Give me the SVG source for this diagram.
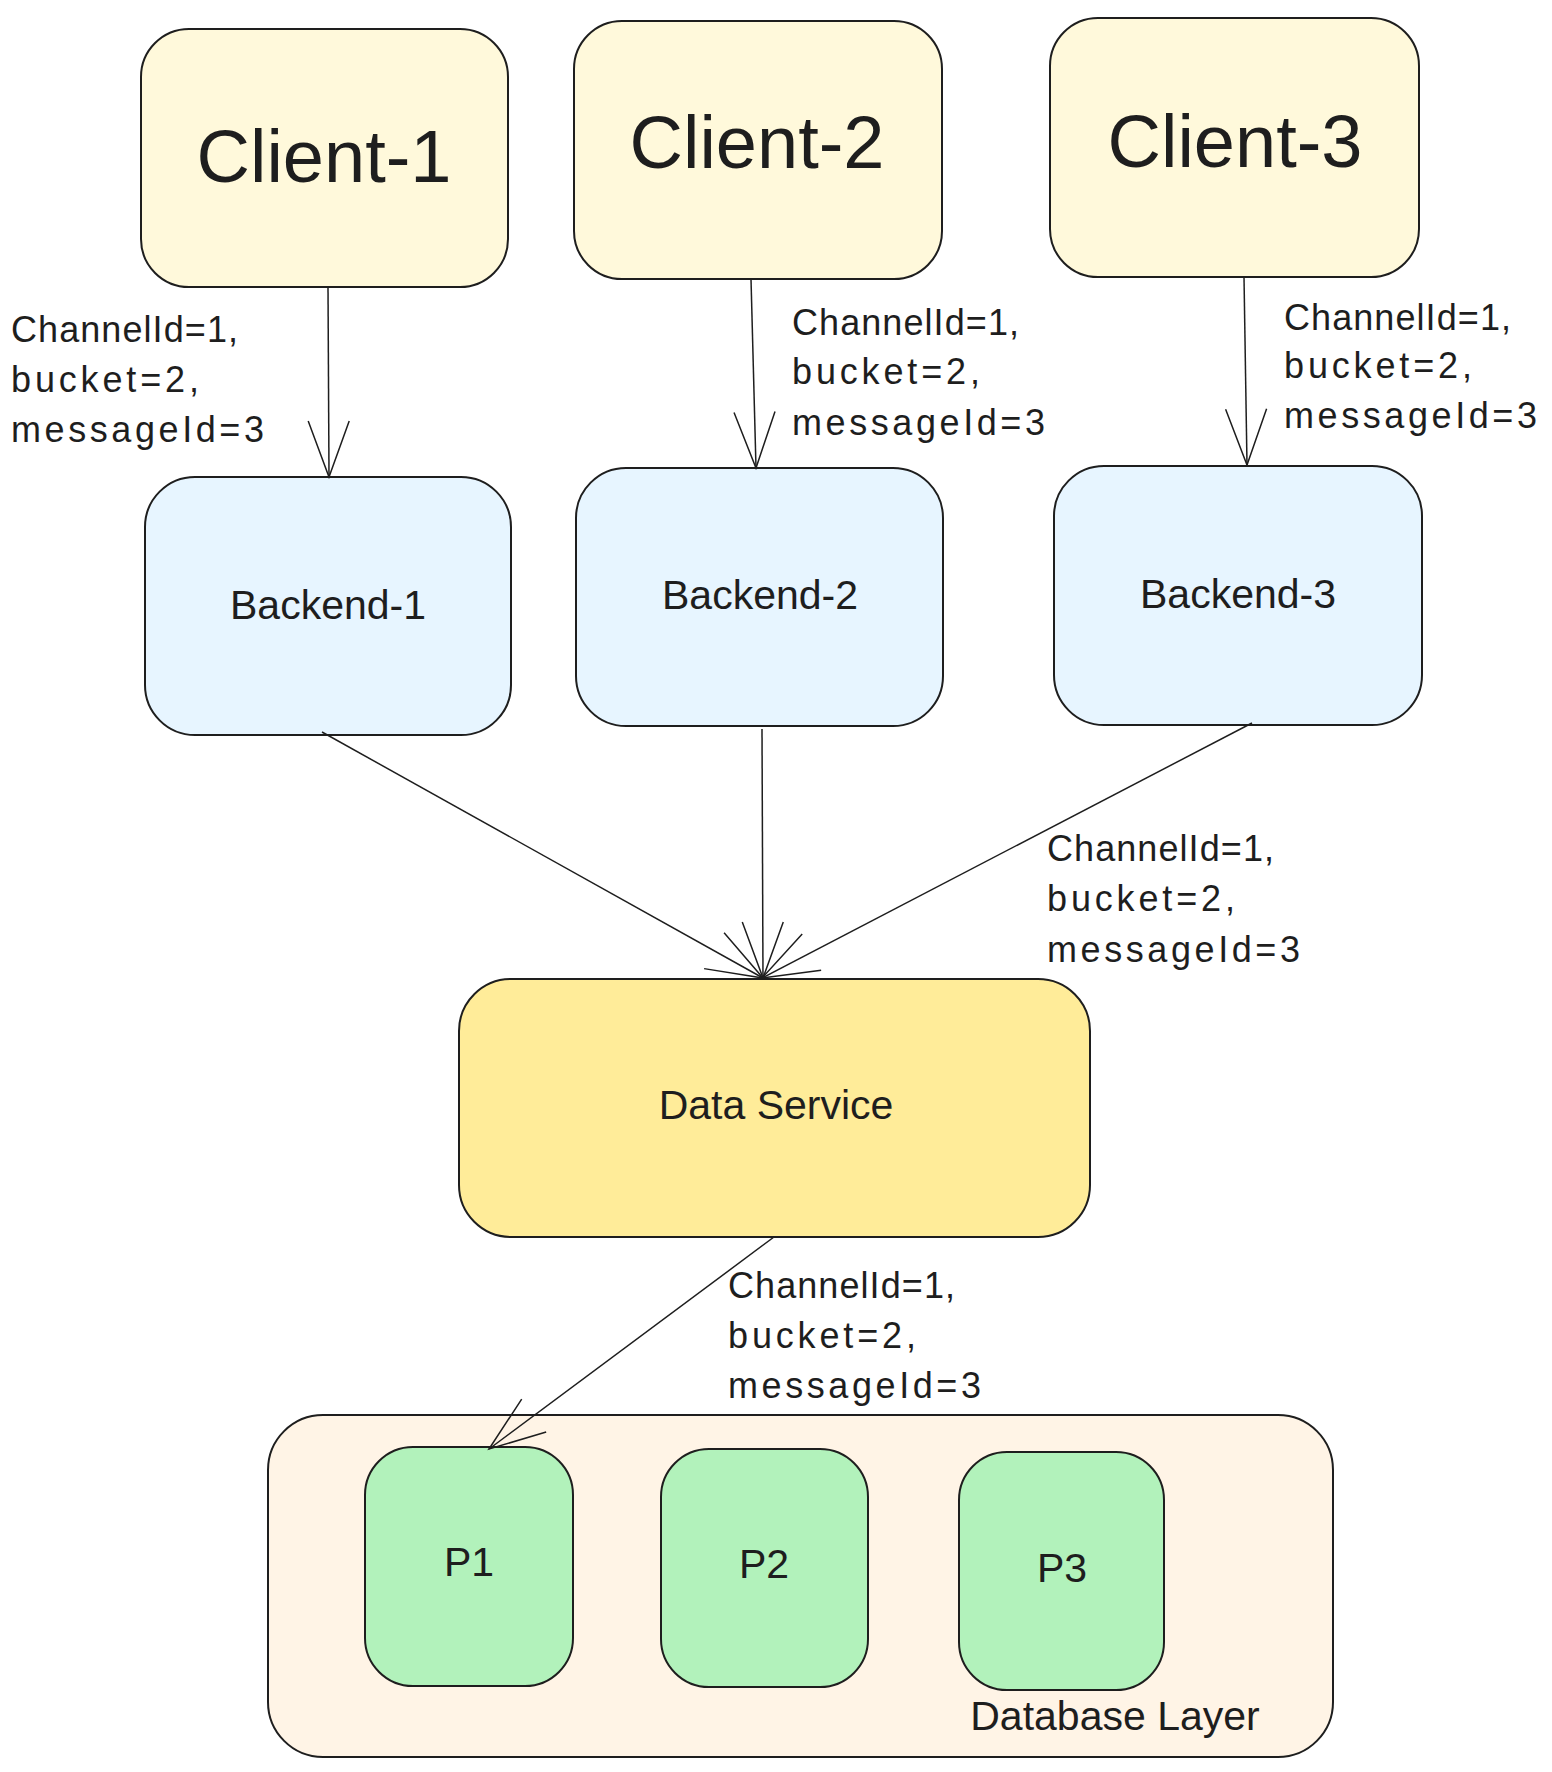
<svg xmlns="http://www.w3.org/2000/svg" width="1552" height="1772" viewBox="0 0 1552 1772">
<style>
.box{stroke:#1e1e1e;stroke-width:2}
.client{fill:#fff9db}
.backend{fill:#e7f5ff}
.data{fill:#ffec99}
.layer{fill:#fff4e6}
.part{fill:#b2f2bb}
text{font-family:"Liberation Sans",Arial,sans-serif;fill:#1e1e1e}
.big{font-size:74px;text-anchor:middle}
.mid{font-size:41px;text-anchor:middle}
.lbl{font-size:36px}
.conn{fill:none;stroke:#1e1e1e;stroke-width:1.5;marker-end:url(#arr)}
</style>
<defs>
<marker id="arr" markerUnits="userSpaceOnUse" markerWidth="80" markerHeight="60" viewBox="-70 -30 80 60" refX="0" refY="0" orient="auto" overflow="visible">
<path d="M-56,-20.5 L0,0 L-56,20.5" fill="none" stroke="#1e1e1e" stroke-width="1.5"/>
</marker>
</defs>
<rect width="1552" height="1772" fill="#ffffff"/>

<g id="database-layer">
<rect class="box layer" x="268" y="1415" width="1065" height="342" rx="55"/>
<text class="mid" x="1115" y="1730" font-size="45">Database Layer</text>
</g>

<g id="client-1"><rect class="box client" x="141" y="29" width="367" height="258" rx="48"/><text class="big" x="324" y="182">Client-1</text></g>
<g id="client-2"><rect class="box client" x="574" y="21" width="368" height="258" rx="48"/><text class="big" x="757" y="168">Client-2</text></g>
<g id="client-3"><rect class="box client" x="1050" y="18" width="369" height="259" rx="48"/><text class="big" x="1235" y="167">Client-3</text></g>

<g id="backend-1"><rect class="box backend" x="145" y="477" width="366" height="258" rx="50"/><text class="mid" x="328" y="619">Backend-1</text></g>
<g id="backend-2"><rect class="box backend" x="576" y="468" width="367" height="258" rx="50"/><text class="mid" x="760" y="609">Backend-2</text></g>
<g id="backend-3"><rect class="box backend" x="1054" y="466" width="368" height="259" rx="50"/><text class="mid" x="1238" y="608">Backend-3</text></g>

<g id="data-service"><rect class="box data" x="459" y="979" width="631" height="258" rx="52"/><text class="mid" x="776" y="1119" font-size="44">Data Service</text></g>

<g id="p1"><rect class="box part" x="365" y="1447" width="208" height="239" rx="48"/><text class="mid" x="469" y="1576" font-size="36">P1</text></g>
<g id="p2"><rect class="box part" x="661" y="1449" width="207" height="238" rx="48"/><text class="mid" x="764" y="1578" font-size="36">P2</text></g>
<g id="p3"><rect class="box part" x="959" y="1452" width="205" height="238" rx="48"/><text class="mid" x="1062" y="1582" font-size="36">P3</text></g>

<g id="connectors">
<path class="conn" d="M328,287 L329,477"/>
<path class="conn" d="M751,279 L756,468"/>
<path class="conn" d="M1244,277 L1247,465"/>
<path class="conn" d="M322,732 L763,978"/>
<path class="conn" d="M762,729 L763,978"/>
<path class="conn" d="M1252,723 L762,978"/>
<path class="conn" d="M774,1237 L489,1449"/>
</g>

<g id="labels">
<text class="lbl" x="11" y="342" textLength="227" lengthAdjust="spacing">ChannelId=1,</text>
<text class="lbl" x="11" y="392" textLength="188" lengthAdjust="spacing">bucket=2,</text>
<text class="lbl" x="11" y="442" textLength="253" lengthAdjust="spacing">messageId=3</text>

<text class="lbl" x="792" y="335" textLength="227" lengthAdjust="spacing">ChannelId=1,</text>
<text class="lbl" x="792" y="384" textLength="188" lengthAdjust="spacing">bucket=2,</text>
<text class="lbl" x="792" y="435" textLength="253" lengthAdjust="spacing">messageId=3</text>

<text class="lbl" x="1284" y="330" textLength="227" lengthAdjust="spacing">ChannelId=1,</text>
<text class="lbl" x="1284" y="378" textLength="188" lengthAdjust="spacing">bucket=2,</text>
<text class="lbl" x="1284" y="428" textLength="253" lengthAdjust="spacing">messageId=3</text>

<text class="lbl" x="1047" y="861" textLength="227" lengthAdjust="spacing">ChannelId=1,</text>
<text class="lbl" x="1047" y="911" textLength="188" lengthAdjust="spacing">bucket=2,</text>
<text class="lbl" x="1047" y="962" textLength="253" lengthAdjust="spacing">messageId=3</text>

<text class="lbl" x="728" y="1298" textLength="227" lengthAdjust="spacing">ChannelId=1,</text>
<text class="lbl" x="728" y="1348" textLength="188" lengthAdjust="spacing">bucket=2,</text>
<text class="lbl" x="728" y="1398" textLength="253" lengthAdjust="spacing">messageId=3</text>
</g>
</svg>
